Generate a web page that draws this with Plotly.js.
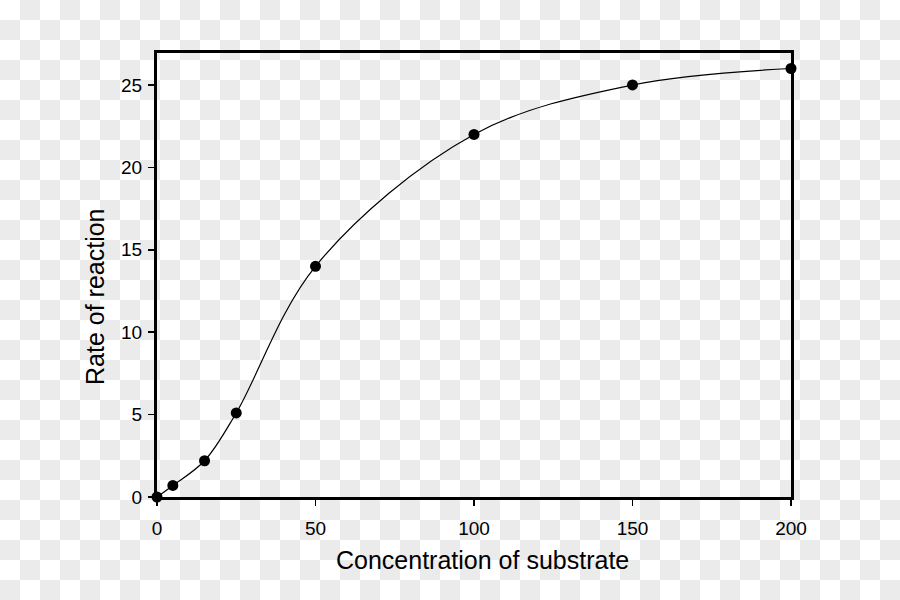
<!DOCTYPE html>
<html>
<head>
<meta charset="utf-8">
<script src="https://cdn.plot.ly/plotly-3.0.1.min.js"></script>
<style>
html,body{margin:0;padding:0;}
body{width:900px;height:600px;background-color:#fff;
background-image:conic-gradient(#ebebeb 25%, transparent 0 50%, #ebebeb 0 75%, transparent 0);
background-size:40px 40px;}
#chart{width:900px;height:600px;}
</style>
</head>
<body>
<div id="chart"></div>
<script>
const concentration = [0, 5, 15, 25, 50, 100, 150, 200];
const rate = [0, 0.7, 2.2, 5.1, 14.0, 22.0, 25.0, 26.0];
const xTicks = [0, 50, 100, 150, 200];
const yTicks = [0, 5, 10, 15, 20, 25];
const xTitle = 'Concentration of substrate';
const yTitle = 'Rate of reaction';

const font = "Liberation Sans, Arial, sans-serif";

const trace = {
  x: concentration,
  y: rate,
  type: 'scatter',
  mode: 'lines+markers',
  line: {color: '#000', width: 1.2, shape: 'spline', smoothing: 1},
  marker: {color: '#000', size: 11},
  cliponaxis: false,
  hoverinfo: 'skip'
};

const layout = {
  width: 900, height: 600,
  margin: {l: 157, r: 109, t: 53, b: 103},
  paper_bgcolor: 'rgba(0,0,0,0)',
  plot_bgcolor: 'rgba(0,0,0,0)',
  showlegend: false,
  font: {family: font, color: '#000', size: 19},
  xaxis: {
    range: [0, 200], tickvals: xTicks, ticktext: xTicks.map(String),
    showgrid: false, zeroline: false,
    showline: true, linecolor: '#000', linewidth: 3, mirror: true,
    ticks: 'outside', ticklen: 6, tickwidth: 1.5, tickcolor: '#000',
    ticklabelstandoff: 6
  },
  yaxis: {
    range: [0, 26.94], tickvals: yTicks, ticktext: yTicks.map(String),
    showgrid: false, zeroline: false,
    showline: true, linecolor: '#000', linewidth: 3, mirror: true,
    ticks: 'outside', ticklen: 6, tickwidth: 1.5, tickcolor: '#000',
    ticklabelstandoff: 2
  },
  annotations: [
    {text: xTitle, xref: 'paper', yref: 'paper', x: 0.514, y: -0.142,
     xanchor: 'center', yanchor: 'middle', showarrow: false,
     font: {family: font, size: 25, color: '#000'}},
    {text: yTitle, xref: 'paper', yref: 'paper', x: -0.0978, y: 0.4527,
     xanchor: 'center', yanchor: 'middle', showarrow: false, textangle: -90,
     font: {family: font, size: 25, color: '#000'}}
  ]
};

Plotly.newPlot('chart', [trace], layout, {displayModeBar: false, staticPlot: true});
</script>
</body>
</html>
